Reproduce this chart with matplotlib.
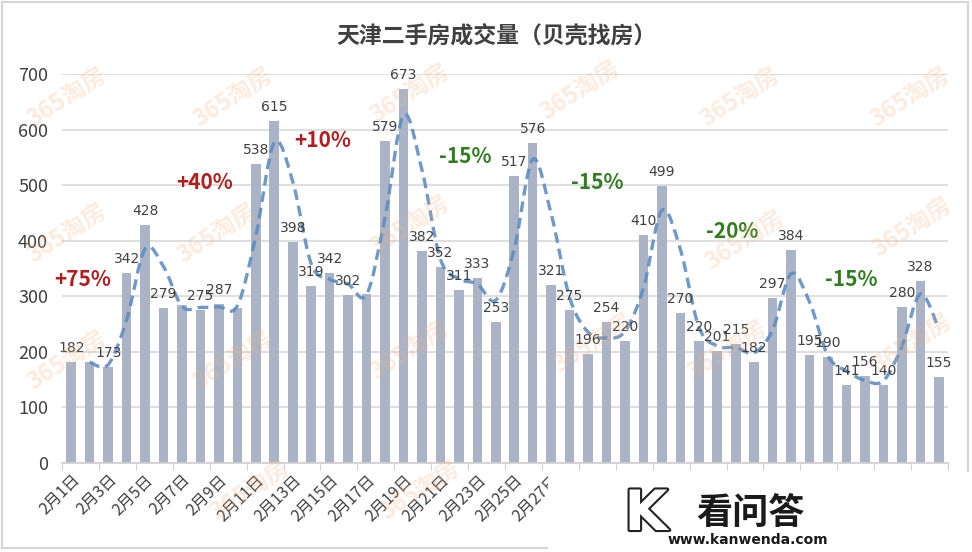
import matplotlib
matplotlib.use("Agg")
import matplotlib.pyplot as plt
from matplotlib.path import Path
from matplotlib.patches import PathPatch, Rectangle
import matplotlib.patheffects as pe
import numpy as np

plt.rcParams['font.family'] = ['Noto Sans CJK SC', 'DejaVu Sans']

# ---------------- data ----------------
feb_values = [182, 181, 173, 342, 428, 279, 285, 275, 287, 279,
              538, 615, 398, 319, 342, 302, 304, 579, 673, 382,
              352, 311, 333, 253, 517, 576, 321, 275]
mar_values = [196, 254, 220, 410, 499, 270, 220, 201, 215, 182,
              297, 384, 195, 190, 141, 156, 140, 280, 328, 155]
# bars whose value label is not shown in the chart (Feb2, Feb7, Feb10, Feb17)
unlabeled = [1, 6, 9, 16]
categories = [f"2月{d}日" for d in range(1, 29)] + [f"3月{d}日" for d in range(1, 21)]
values = feb_values + mar_values

annot_text = ["+75%", "+40%", "+10%", "-15%", "-15%", "-20%", "-15%"]
annot_x = [0.64, 7.25, 13.64, 21.33, 28.48, 35.8, 42.24]
annot_y = [331, 504, 581, 551, 504, 416, 331]
annot_color = ["#B21E1E"] * 3 + ["#2F7D1E"] * 4

title = "天津二手房成交量（贝壳找房）"

# ---------------- figure ----------------
W, H = 972, 552
fig = plt.figure(figsize=(W / 100, H / 100), dpi=100)
fig.patch.set_facecolor("white")
ax = fig.add_axes([62 / W, 1 - 463 / H, (948 - 62) / W, (463 - 74) / H])
ax.set_facecolor("none")

x = np.arange(len(values))
ax.bar(x, values, width=0.52, color="#AAB4C6", zorder=2)

ax.set_xlim(-0.5, len(values) - 0.5)
ax.set_ylim(0, 700)
ax.set_yticks(range(0, 701, 100))
ax.grid(axis="y", color="#D9D9D9", linewidth=1.2, zorder=0)
ax.tick_params(axis="y", length=0, labelsize=13, labelcolor="#404040", pad=10)
for s in ["top", "right", "left"]:
    ax.spines[s].set_visible(False)
ax.spines["bottom"].set_color("#D0D0D0")
ax.spines["bottom"].set_linewidth(1.2)

# x ticks: marks every 2 categories on boundaries, labels on odd days
ax.set_xticks(np.arange(-0.5, len(values), 2))
ax.tick_params(axis="x", which="major", length=5, color="#D0D0D0", labelbottom=False)
ax.set_xticks(x[::2], minor=True)
ax.set_xticklabels([categories[i] for i in x[::2]], minor=True, rotation=45,
                   ha="right", rotation_mode="anchor", fontsize=11.5, color="#404040")
ax.tick_params(axis="x", which="minor", length=0, pad=6)

# value labels
for i, v in enumerate(values):
    if i in unlabeled:
        continue
    ax.annotate(str(v), (i, v), xytext=(0, 5), textcoords="offset points",
                ha="center", va="bottom", fontsize=10, color="#404040",
                family=["DejaVu Sans"], zorder=5)

# 2-period moving average, smoothed (Bezier through points)
ma_x = x[1:]
ma_y = [(values[i - 1] + values[i]) / 2 for i in range(1, len(values))]
pts = np.column_stack([ma_x, ma_y]).astype(float)
verts = [tuple(pts[0])]
codes = [Path.MOVETO]
n = len(pts)
for i in range(n - 1):
    p0 = pts[i - 1] if i > 0 else pts[i]
    p1 = pts[i]
    p2 = pts[i + 1]
    p3 = pts[i + 2] if i + 2 < n else pts[i + 1]
    c1 = p1 + (p2 - p0) / 6.0
    c2 = p2 - (p3 - p1) / 6.0
    verts += [tuple(c1), tuple(c2), tuple(p2)]
    codes += [Path.CURVE4] * 3
patch = PathPatch(Path(verts, codes), facecolor="none", edgecolor="#5E8EC2",
                  linewidth=2.4, linestyle=(0, (3.2, 1.8)), alpha=0.9, zorder=4)
ax.add_patch(patch)

# percentage annotations
for t, ax_, ay, c in zip(annot_text, annot_x, annot_y, annot_color):
    ax.text(ax_, ay, t, ha="center", va="center", fontsize=15,
            fontweight="bold", color=c, zorder=6)

# title
fig.text(496 / W, 1 - 36 / H, title, ha="center", va="center",
         fontsize=16.5, fontweight="bold", color="#404040")

# watermarks
wm_pos = [(67, 97), (233, 97), (410, 93), (580, 90), (740, 97), (910, 97),
          (67, 233), (217, 233), (410, 225), (745, 240), (912, 227),
          (67, 360), (233, 360), (410, 350), (593, 343), (727, 350), (912, 343),
          (250, 490), (420, 490)]
for (px, py) in wm_pos:
    fig.text(px / W, 1 - py / H, "365淘房", ha="center", va="center",
             fontsize=17, fontweight="bold", color="#F3B27A", alpha=0.25,
             rotation=33, zorder=1)

# outer frame
fig.patches.append(Rectangle((2 / W, 4 / H), 966 / W, 546 / H, transform=fig.transFigure,
                             facecolor="none", edgecolor="#D5D5D5", linewidth=1.5, zorder=10))

# logo box covering the lower right
fig.patches.append(Rectangle((548 / W, 0), (W - 548) / W, (H - 472) / H, transform=fig.transFigure,
                             facecolor="white", edgecolor="none", zorder=20))
fig.text(646 / W, 1 - 515 / H, "K", ha="center", va="center", fontsize=40,
         color="white", fontweight="bold", family=["DejaVu Sans"], zorder=21,
         path_effects=[pe.withStroke(linewidth=3, foreground="#222222")])
fig.text(750 / W, 1 - 513 / H, "看问答", ha="center", va="center", fontsize=26,
         fontweight="bold", color="#1A1A1A", zorder=21)
fig.text(748 / W, 1 - 540 / H, "www.kanwenda.com", ha="center", va="center",
         fontsize=10, fontweight="bold", color="#1A1A1A", family=["DejaVu Sans"], zorder=21)

fig.savefig("out.png", dpi=100)
